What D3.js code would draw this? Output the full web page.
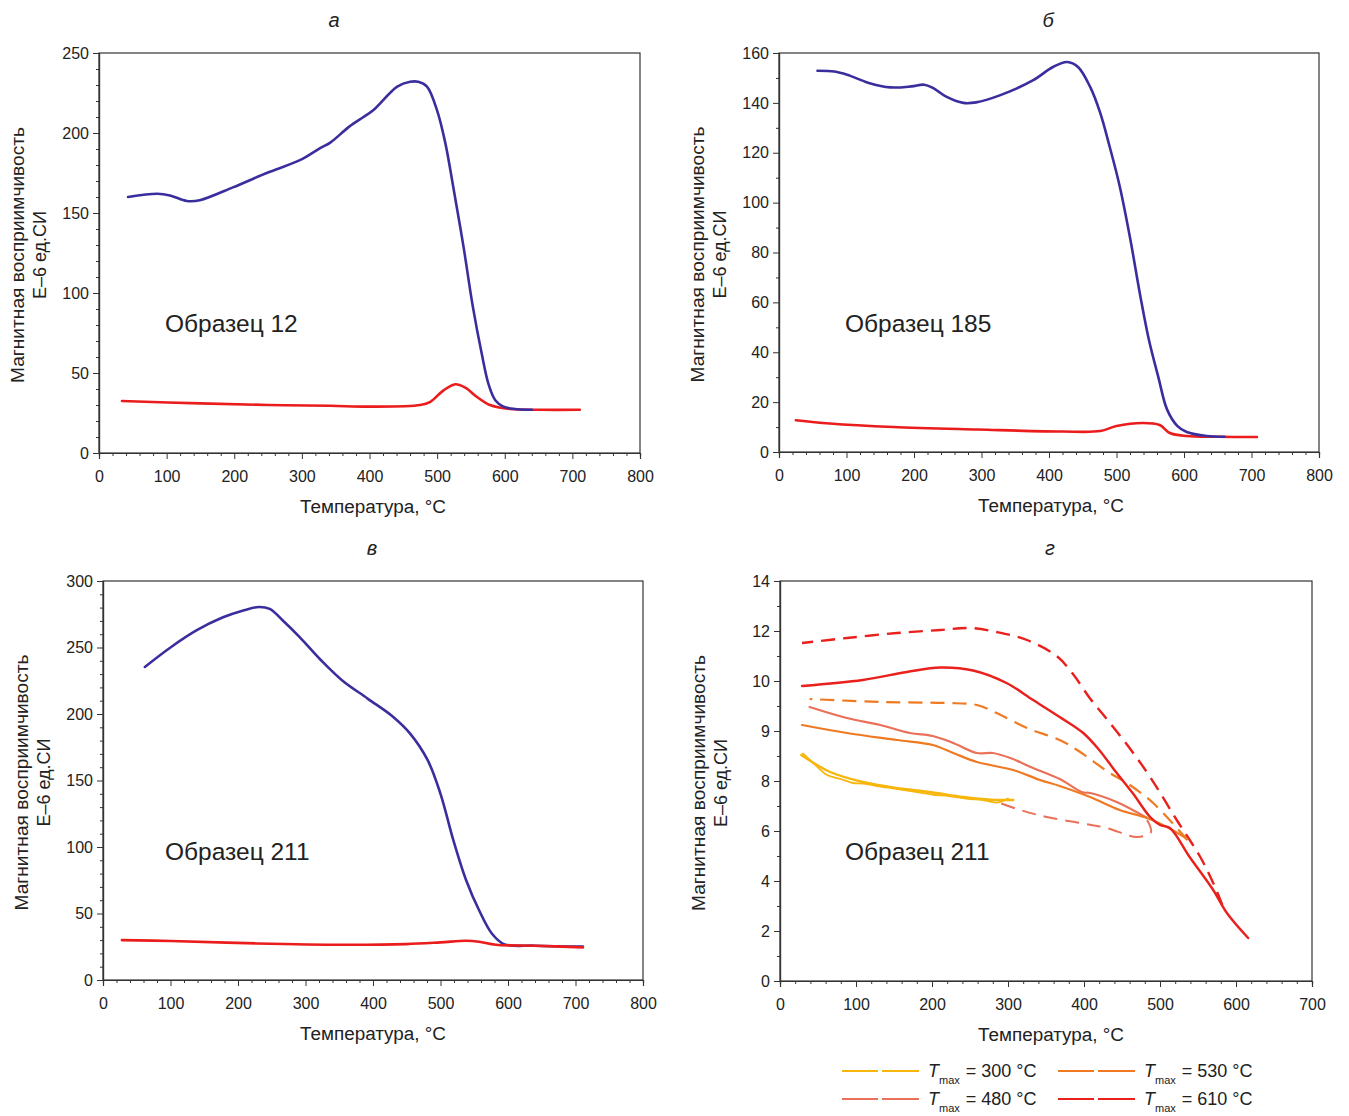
<!DOCTYPE html>
<html><head><meta charset="utf-8">
<script src="https://cdn.jsdelivr.net/npm/d3@7"></script>
<style>
html,body{margin:0;padding:0;background:#fff;}
text{font-family:"Liberation Sans",Arial,Helvetica,sans-serif;fill:#222;}
</style></head>
<body>
<svg id="c" width="1349" height="1116"></svg>
<script>
// ---------- DATA ----------
const panelTitles = ["а", "б", "в", "г"];
const sampleLabels = ["Образец 12", "Образец 185", "Образец 211", "Образец 211"];
const yTitle1 = "Магнитная восприимчивость";
const yTitle2 = "Е–6 ед.СИ";
const xTitle = "Температура, °С";

const xTicksA = [0,100,200,300,400,500,600,700,800];
const xTicksG = [0,100,200,300,400,500,600,700];
const yTicksA = [0,50,100,150,200,250];
const yTicksB = [0,20,40,60,80,100,120,140,160];
const yTicksV = [0,50,100,150,200,250,300];
const yTicksG = [0,2,4,6,8,9,10,12,14];   // labels as printed on the original axis

// Panel а (sample 12): [T °C, susceptibility]
const aHeat = [[43,160],[86,162],[105,161],[130,157.5],[149,158],[198,166],[248,175],[297,183],[327,190.6],[342,194],[370,204],[391,210],[405,214],[441,229],[460,232],[472,232],[485,229],[500,214],[512,194],[524,166],[539,129],[553,91],[566,62],[576,43],[586,33],[598,29],[615,27.5],[640,27]];
const aCool = [[34,32.5],[150,31],[250,30],[342,29.5],[400,29],[475,30],[490,32],[509,39],[527,43],[541,41],[559,35],[578,30],[608,27.5],[650,27],[711,27]];

// Panel б (sample 185)
const bHeat = [[57,152.9],[82,152.6],[101,151.3],[133,148],[165,146.2],[196,146.6],[215,147.3],[228,146],[247,142.6],[273,140],[292,140.2],[327,143],[376,149],[406,154.4],[427,156.4],[443,154.4],[461,146.4],[476,135.9],[490,122.3],[505,106.3],[520,86],[535,63],[548,45],[562,30],[575,17],[590,10.5],[604,8],[634,6.4],[660,6.1]];
const bCool = [[25,12.7],[75,11.4],[169,10],[295,9],[420,8.2],[476,8.4],[500,10.4],[539,11.6],[564,10.8],[579,7.6],[604,6.4],[650,6.1],[708,6]];

// Panel в (sample 211)
const vHeat = [[62,235.4],[101,250.4],[139,263],[177,272.5],[209,278],[231,280.5],[247,279],[266,270.5],[291,258],[323,240.4],[354,225.4],[392,211.6],[430,197.8],[455,185.3],[481,165.3],[500,140],[519,105.2],[538,75],[557,52.6],[576,35],[594,27],[640,25.8],[711,25.2]];
const vCool = [[28,30],[101,29.3],[228,27.5],[354,26.5],[449,27],[500,28.3],[538,29.5],[557,28.8],[582,26.5],[639,25.8],[711,24.5]];

// Panel г (sample 211, stepwise heating to Tmax)
const g300heat = [[28,8.52],[66,8.18],[109,7.96],[153,7.72],[197,7.56],[241,7.36],[277,7.25],[307,7.24]];
const g300cool = [[300,7.3],[286,7.14],[270,7.22],[245,7.3],[222,7.4],[200,7.46],[172,7.6],[150,7.7],[128,7.8],[110,7.9],[96,7.92],[80,8.04],[62,8.12],[48,8.3],[30,8.55]];
const g480heat = [[39,9.48],[88,9.26],[132,9.12],[171,8.96],[201,8.9],[228,8.76],[259,8.56],[280,8.56],[303,8.46],[333,8.26],[368,8.04],[398,7.55],[408,7.52],[443,7.16],[483,6.52]];
const g480cool = [[483,6.44],[488,5.95],[470,5.76],[430,6.12],[395,6.32],[351,6.56],[316,6.84],[286,7.16]];
const g530heat = [[29,9.12],[88,8.96],[154,8.82],[201,8.72],[228,8.56],[259,8.38],[307,8.22],[342,8.02],[368,7.8],[408,7.36],[447,6.84],[483,6.52],[509,6.16],[536,5.68]];
const g530cool = [[536,5.64],[491,7.12],[455,7.95],[434,8.16],[391,8.62],[368,8.82],[325,9.06],[285,9.36],[259,9.52],[219,9.56],[132,9.58],[39,9.64]];
const g610heat = [[29,9.9],[109,10.04],[167,10.36],[211,10.54],[254,10.42],[298,9.96],[333,9.62],[368,9.28],[399,8.96],[420,8.62],[441,8.2],[464,7.52],[487,6.56],[500,6.24],[513,6.12],[539,4.96],[570,3.64],[588,2.72],[616,1.72]];
const g610cool = [[582,3.04],[570,3.92],[553,4.96],[522,6.44],[487,8.08],[458,8.7],[432,9.2],[408,9.65],[385,10.3],[364,11.0],[325,11.64],[285,11.96],[250,12.12],[211,12.04],[154,11.92],[88,11.72],[29,11.52]];

const legendLabels = ["= 300 °C", "= 530 °C", "= 480 °C", "= 610 °C"];

// ---------- STYLE ----------
const BLUE = "#3a2e9e", RED = "#ea1c1c";
const C300 = "#f6b60c", C480 = "#ea7058", C530 = "#f07a22", C610 = "#e9201c";
const AX = "#333";

const svg = d3.select("#c");

function panel(o){
  const g = svg.append("g");
  const x = d3.scaleLinear().domain([0, o.xmax]).range([o.l, o.r]);
  const y = o.yscale || d3.scaleLinear().domain([0, o.ymax]).range([o.b, o.t]);
  g.append("rect").attr("x", o.l).attr("y", o.t).attr("width", o.r-o.l).attr("height", o.b-o.t)
    .attr("fill","none").attr("stroke", AX).attr("stroke-width", 1.2);
  const xMinor = d3.range(0, o.xmax+0.1, 20).filter(v => v % 100 !== 0);
  g.append("g").attr("transform", `translate(0,${o.b})`)
    .call(d3.axisBottom(x).tickValues(o.xticks).tickSize(6).tickPadding(12).tickFormat(d3.format("d")));
  g.append("g").attr("transform", `translate(0,${o.b})`)
    .call(d3.axisBottom(x).tickValues(xMinor).tickSize(3).tickFormat(""));
  g.append("g").attr("transform", `translate(${o.l},0)`)
    .call(d3.axisLeft(y).tickValues(o.yticks).tickSize(6).tickPadding(4).tickFormat(d3.format("d")));
  g.append("g").attr("transform", `translate(${o.l},0)`)
    .call(d3.axisLeft(y).tickValues(o.yminor).tickSize(3).tickFormat(""));
  g.selectAll(".domain").attr("stroke", AX).attr("stroke-width", 1.2);
  g.selectAll(".tick line").attr("stroke", AX).attr("stroke-width", 1);
  g.selectAll(".tick text").style("font-size","16px").style("font-family","'Liberation Sans',Arial,sans-serif").attr("fill","#222");
  g.append("text").attr("x", o.titleX).attr("y", o.t-26).attr("text-anchor","middle")
    .style("font-size","20px").style("font-style","italic").text(o.title);
  g.append("text").attr("x", o.xTitleX).attr("y", o.b+60).attr("text-anchor","middle")
    .attr("textLength", 146).attr("lengthAdjust","spacingAndGlyphs")
    .style("font-size","18px").text(xTitle);
  const cy = (o.t+o.b)/2 + 2;
  g.append("text").attr("transform", `translate(${o.l-75},${cy}) rotate(-90)`).attr("text-anchor","middle")
    .attr("textLength", 256).attr("lengthAdjust","spacingAndGlyphs")
    .style("font-size","18px").text(yTitle1);
  g.append("text").attr("transform", `translate(${o.l-53},${cy}) rotate(-90)`).attr("text-anchor","middle")
    .style("font-size","18px").text(yTitle2);
  g.append("text").attr("x", o.labelX).attr("y", o.labelY).style("font-size","24.5px").text(o.sample);
  const line = d3.line().x(d => x(d[0])).y(d => y(d[1])).curve(d3.curveCatmullRom.alpha(0.5));
  o.series.forEach(s => {
    g.append("path").datum(s.data).attr("d", line).attr("fill","none")
      .attr("stroke", s.color).attr("stroke-width", s.w || 2.6)
      .attr("stroke-dasharray", s.dash || null).attr("stroke-linejoin","round").attr("stroke-linecap", s.dash ? "butt" : "round");
  });
  return {x, y, g};
}

panel({l:99, r:640, t:53, b:453, xmax:800, ymax:250, xticks:xTicksA, yticks:yTicksA,
  yminor:d3.range(10,250,10).filter(v=>v%50!==0), title:panelTitles[0], titleX:334, xTitleX:373,
  sample:sampleLabels[0], labelX:165, labelY:332,
  series:[{data:aCool,color:RED},{data:aHeat,color:BLUE}]});

panel({l:779, r:1319, t:53, b:452, xmax:800, ymax:160, xticks:xTicksA, yticks:yTicksB,
  yminor:d3.range(10,160,20), title:panelTitles[1], titleX:1048, xTitleX:1051,
  sample:sampleLabels[1], labelX:845, labelY:332,
  series:[{data:bCool,color:RED},{data:bHeat,color:BLUE}]});

panel({l:103, r:643, t:581, b:980, xmax:800, ymax:300, xticks:xTicksA, yticks:yTicksV,
  yminor:d3.range(10,300,10).filter(v=>v%50!==0), title:panelTitles[2], titleX:372, xTitleX:373,
  sample:sampleLabels[2], labelX:165, labelY:860,
  series:[{data:vHeat,color:BLUE},{data:vCool,color:RED}]});

const yG = d3.scaleLinear().domain(yTicksG).range(yTicksG.map((d,i) => 981 - i*50));
const gMinor = d3.range(0, yTicksG.length-1).map(i => (yTicksG[i]+yTicksG[i+1])/2);
const D = "14,8";
panel({l:780, r:1312, t:581, b:981, xmax:700, yscale:yG, xticks:xTicksG, yticks:yTicksG,
  yminor:gMinor, title:panelTitles[3], titleX:1050, xTitleX:1051,
  sample:sampleLabels[3], labelX:845, labelY:860,
  series:[
    {data:g610cool,color:C610,dash:D,w:2.4},
    {data:g530cool,color:C530,dash:D,w:2.2},
    {data:g480cool,color:C480,dash:D,w:2.0},
    {data:g300cool,color:C300,w:1.8},
    {data:g300heat,color:C300,w:2.4},
    {data:g480heat,color:C480,w:2.2},
    {data:g530heat,color:C530,w:2.2},
    {data:g610heat,color:C610,w:2.4}
  ]});

// legend
const legItems = [
  {c:C300, x:842, y:1071, t:legendLabels[0]},
  {c:C530, x:1058, y:1071, t:legendLabels[1]},
  {c:C480, x:842, y:1099, t:legendLabels[2]},
  {c:C610, x:1058, y:1099, t:legendLabels[3]}
];
const lg = svg.append("g");
legItems.forEach(it => {
  lg.append("line").attr("x1", it.x).attr("x2", it.x+36).attr("y1", it.y).attr("y2", it.y).attr("stroke", it.c).attr("stroke-width", 2);
  lg.append("line").attr("x1", it.x+40).attr("x2", it.x+77).attr("y1", it.y).attr("y2", it.y).attr("stroke", it.c).attr("stroke-width", 2);
  const t = lg.append("text").attr("x", it.x+86).attr("y", it.y+6).style("font-size","18px");
  t.append("tspan").style("font-style","italic").text("T");
  t.append("tspan").attr("dy", 7).style("font-size","11px").text("max");
  t.append("tspan").attr("dy", -7).attr("dx", 6).text(it.t);
});
</script>
</body></html>
